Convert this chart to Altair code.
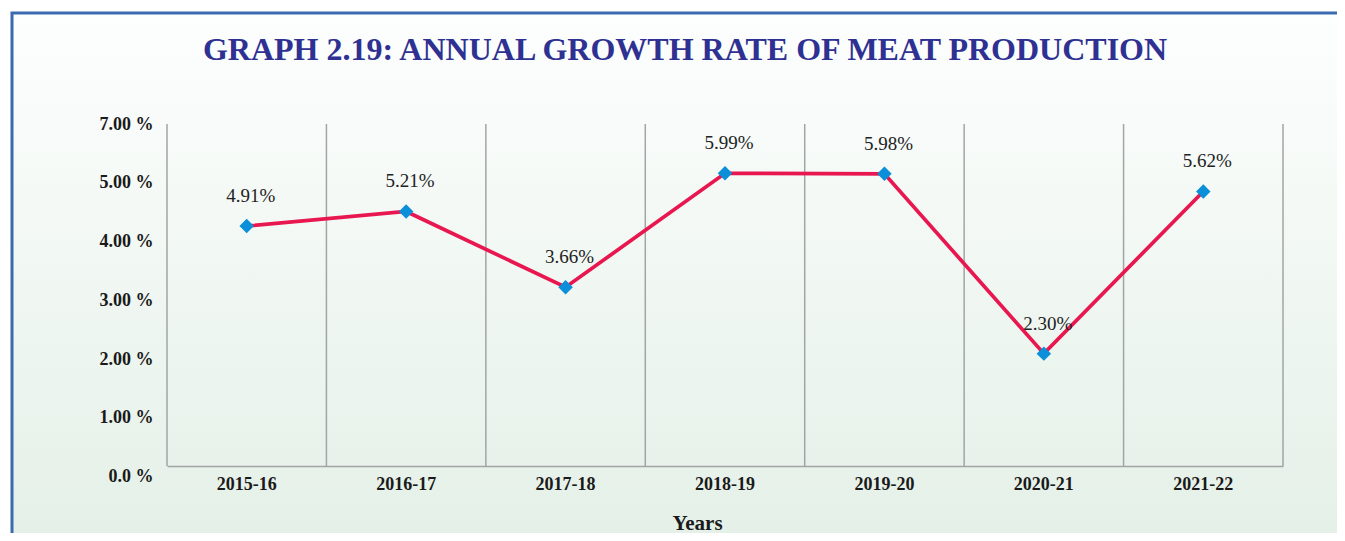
import altair as alt
import pandas as pd

# ---- data ----
years = ["2015-16", "2016-17", "2017-18", "2018-19", "2019-20", "2020-21", "2021-22"]
growth = [4.91, 5.21, 3.66, 5.99, 5.98, 2.30, 5.62]
point_labels = ["4.91%", "5.21%", "3.66%", "5.99%", "5.98%", "2.30%", "5.62%"]
y_tick_labels = ["0.0 %", "1.00 %", "2.00 %", "3.00 %", "4.00 %", "5.00 %", "7.00 %"]
y_max = 7

df = pd.DataFrame({"year": years, "growth": growth, "label": point_labels})
last_df = pd.DataFrame({"year": [years[-1]]})

SERIF = "Liberation Serif"
GRID = "#A2A5A5"

x_scale = alt.Scale(type="band", domain=years, paddingInner=0, paddingOuter=0)
y_scale = alt.Scale(domain=[0, y_max], nice=False, zero=True)

n = len(y_tick_labels) - 1
tick_vals = [k * y_max / n for k in range(n + 1)]
label_js = "[" + ",".join("'" + s + "'" for s in y_tick_labels) + "]"

x_axis = alt.Axis(
    title="Years", labelAngle=0, labelFont=SERIF, labelFontSize=18,
    labelFontWeight="bold", labelColor="#1a1a1a", labelPadding=9,
    ticks=False, domain=True, domainColor=GRID, domainWidth=1.5, grid=False,
    titleFont=SERIF, titleFontSize=21, titleFontWeight="bold", titleColor="#1a1a1a",
    titleX=530, titleY=63, titleBaseline="alphabetic", titleAlign="center",
    zindex=1,
)
y_axis = alt.Axis(
    values=tick_vals, labelExpr=label_js + "[round(datum.value*" + str(n) + "/" + str(y_max) + ")]",
    title=None, domain=False, ticks=False, grid=False, labelPadding=14,
    labelFont=SERIF, labelFontSize=18, labelFontWeight="bold", labelColor="#1a1a1a",
    labelOffset={
        "condition": [
            {"test": "datum.value < 0.5", "value": 10},
            {"test": "datum.value < 1.5", "value": 8.5},
            {"test": "datum.value < 2.5", "value": 7.5},
            {"test": "datum.value < 4", "value": 5},
            {"test": "datum.value < 5", "value": 3},
            {"test": "datum.value < 6", "value": 1.5},
        ],
        "value": 0.5,
    },
    zindex=1,
)

gradient = alt.Gradient(
    gradient="linear", x1=0, x2=0, y1=0, y2=1,
    stops=[alt.GradientStop(color="#FDFEFE", offset=0),
           alt.GradientStop(color="#E4F0E7", offset=1)],
)

bg = alt.Chart(alt.Data(values=[{}])).mark_rect(
    fill=gradient, stroke="#3A6BAF", strokeWidth=3
).encode(
    x=alt.value(-155), x2=alt.value(1185), y=alt.value(-111), y2=alt.value(421)
)

grid_left = alt.Chart(df).mark_rule(color=GRID, strokeWidth=1.5).encode(
    x=alt.X("year:N", scale=x_scale, axis=x_axis, bandPosition=0, sort=years),
    y=alt.YDatum(datum=y_max, scale=y_scale, axis=y_axis),
    y2=alt.Y2Datum(datum=0),
)
grid_right = alt.Chart(last_df).mark_rule(color=GRID, strokeWidth=1.5).encode(
    x=alt.X("year:N", scale=x_scale, axis=x_axis, bandPosition=1, sort=years),
    y=alt.YDatum(datum=y_max, scale=y_scale, axis=y_axis),
    y2=alt.Y2Datum(datum=0),
)

base = alt.Chart(df).encode(
    x=alt.X("year:N", scale=x_scale, axis=x_axis, bandPosition=0.5, sort=years),
    y=alt.Y("growth:Q", scale=y_scale, axis=y_axis),
)
line = base.mark_line(color="#E8174F", strokeWidth=3.7)
points = base.mark_point(shape="diamond", filled=True, size=210, color="#0A8FD8", opacity=1)
labels = base.mark_text(
    dy=-30, dx=4, fontSize=19, font=SERIF, color="#222222", baseline="middle"
).encode(text="label:N")

chart = alt.layer(bg, grid_left, grid_right, line, points, labels).properties(
    width=1116, height=342,
    autosize=alt.AutoSizeParams(type="none"),
    padding={"left": 159, "top": 116, "right": 54, "bottom": 67},
    background="white",
    title=alt.Title(
        text="GRAPH 2.19: ANNUAL GROWTH RATE OF MEAT PRODUCTION",
        font=SERIF, fontSize=32, fontWeight="bold", color="#2E3192",
        anchor="middle", dx=-40, offset=0, dy=55,
    ),
).configure_view(stroke=None)

chart.save("out.html", embed_options={"renderer": "svg", "actions": False})
